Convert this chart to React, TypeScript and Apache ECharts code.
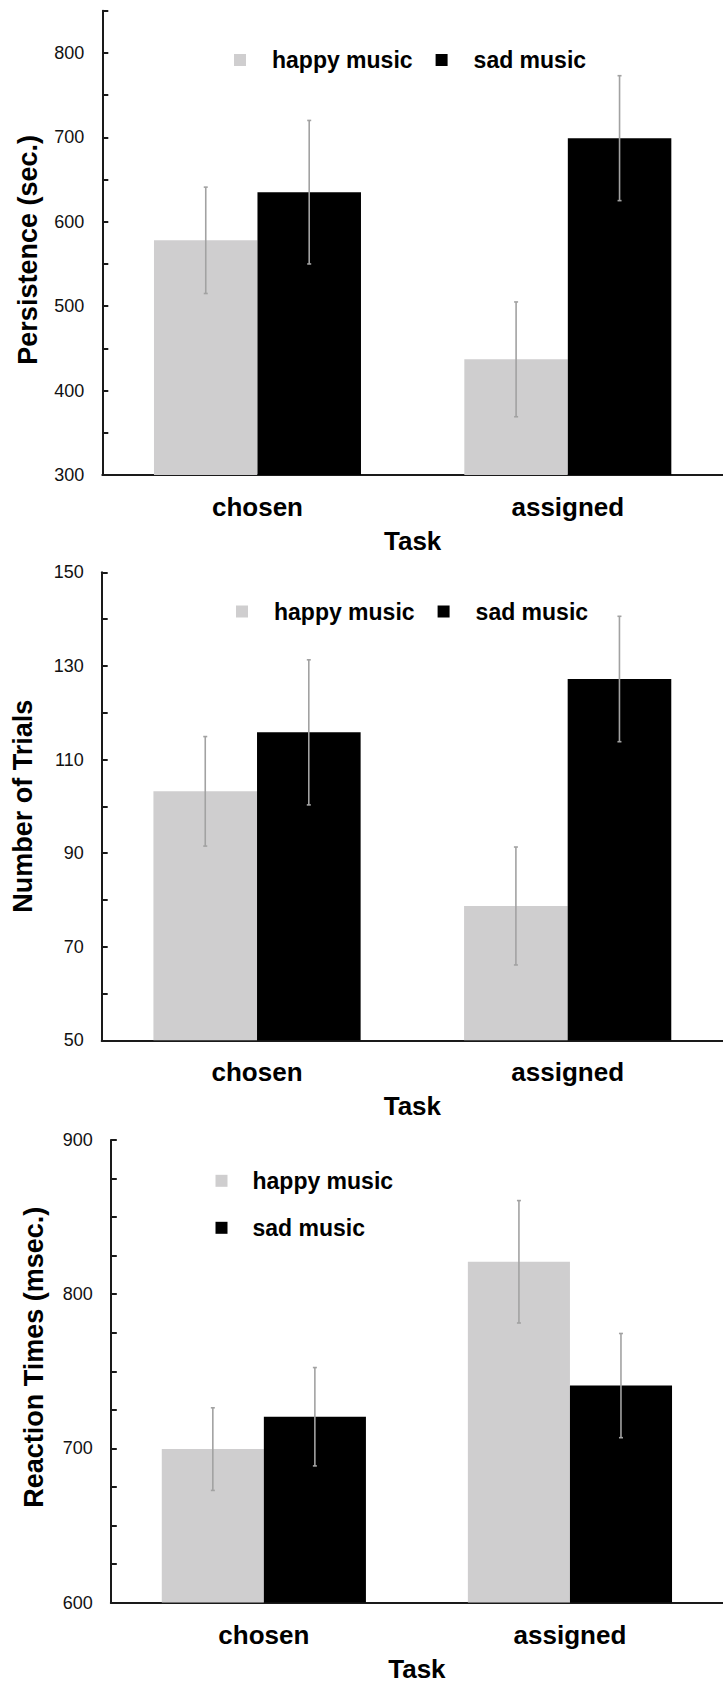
import React, { useEffect, useRef } from 'react';
import * as echarts from 'echarts';

const tasks = ['chosen', 'assigned'];
const groupNames = ['happy music', 'sad music'];

// Panel 1: Persistence (sec.)
const persistenceHappy = [578, 437];
const persistenceSad = [635, 699];
const persistenceHappyErr = [63, 68];
const persistenceSadErr = [85, 74];
const persistenceLabels = [300, 400, 500, 600, 700, 800];

// Panel 2: Number of Trials
const trialsHappy = [103.2, 78.7];
const trialsSad = [115.8, 127.2];
const trialsHappyErr = [11.7, 12.6];
const trialsSadErr = [15.5, 13.4];
const trialsLabels = [50, 70, 90, 110, 130, 150];

// Panel 3: Reaction Times (msec.)
const rtHappy = [699.5, 821];
const rtSad = [720.5, 740.7];
const rtHappyErr = [26.8, 39.7];
const rtSadErr = [31.9, 33.8];
const rtLabels = [600, 700, 800, 900];

const FONT = "'Liberation Sans', Arial, sans-serif";
const HAPPY_COLOR = '#cfcecf';
const SAD_COLOR = '#000000';
const AXIS_COLOR = '#1a1a1a';
const ERR_COLOR = '#a2a2a2';

type Panel = {
  title: string;
  happy: number[];
  sad: number[];
  happyErr: number[];
  sadErr: number[];
  labels: number[];
  min: number;
  max: number;
  interval: number;
  grid: { left: number; top: number; width: number; height: number };
  namePadding: number[];
  nameGap: number;
};

const panels: Panel[] = [
  {
    title: 'Persistence (sec.)',
    happy: persistenceHappy,
    sad: persistenceSad,
    happyErr: persistenceHappyErr,
    sadErr: persistenceSadErr,
    labels: persistenceLabels,
    min: 300,
    max: 850,
    interval: 50,
    grid: { left: 102.3, top: 10.7, width: 625, height: 464.3 },
    namePadding: [0, 14, 0, 0],
    nameGap: 61,
  },
  {
    title: 'Number of Trials',
    happy: trialsHappy,
    sad: trialsSad,
    happyErr: trialsHappyErr,
    sadErr: trialsSadErr,
    labels: trialsLabels,
    min: 50,
    max: 150,
    interval: 10,
    grid: { left: 101.7, top: 572.3, width: 630, height: 468 },
    namePadding: [0, 0, 0, 0],
    nameGap: 65,
  },
  {
    title: 'Reaction Times (msec.)',
    happy: rtHappy,
    sad: rtSad,
    happyErr: rtHappyErr,
    sadErr: rtSadErr,
    labels: rtLabels,
    min: 600,
    max: 900,
    interval: 25,
    grid: { left: 110.8, top: 1140, width: 624, height: 462.5 },
    namePadding: [0, 0, 0, 28],
    nameGap: 63,
  },
];

function buildOption() {
  const grids: any[] = [];
  const xAxes: any[] = [];
  const yAxes: any[] = [];
  const series: any[] = [];

  const errRender = (params: any, api: any) => {
    const idx = api.value(0);
    const lo = api.value(1);
    const hi = api.value(2);
    const side = api.value(3);
    const band = api.size([1, 0])[0];
    const pLo = api.coord([idx, lo]);
    const pHi = api.coord([idx, hi]);
    const x = pLo[0] + (side * band) / 6;
    const style = { stroke: ERR_COLOR, lineWidth: 1.6 };
    return {
      type: 'group',
      children: [
        { type: 'line', shape: { x1: x, y1: pLo[1], x2: x, y2: pHi[1] }, style },
        { type: 'line', shape: { x1: x - 2, y1: pLo[1], x2: x + 2, y2: pLo[1] }, style },
        { type: 'line', shape: { x1: x - 2, y1: pHi[1], x2: x + 2, y2: pHi[1] }, style },
      ],
    };
  };

  panels.forEach((p, i) => {
    grids.push({ ...p.grid });
    xAxes.push({
      type: 'category',
      gridIndex: i,
      data: tasks,
      name: 'Task',
      nameLocation: 'middle',
      nameGap: 53,
      nameTextStyle: { fontFamily: FONT, fontSize: 26, fontWeight: 'bold', color: '#000' },
      axisLine: { lineStyle: { color: AXIS_COLOR, width: 2 } },
      axisTick: { show: false },
      axisLabel: { fontFamily: FONT, fontSize: 26, fontWeight: 'bold', color: '#000', margin: 19 },
      splitLine: { show: false },
    });
    yAxes.push({
      type: 'value',
      gridIndex: i,
      min: p.min,
      max: p.max,
      interval: p.interval,
      name: p.title,
      nameLocation: 'middle',
      nameGap: p.nameGap,
      nameTextStyle: {
        fontFamily: FONT,
        fontSize: 27,
        fontWeight: 'bold',
        color: '#000',
        padding: p.namePadding,
      },
      axisLine: { show: true, lineStyle: { color: AXIS_COLOR, width: 2 } },
      axisTick: { show: true, inside: true, length: 6, lineStyle: { color: AXIS_COLOR, width: 2 } },
      axisLabel: {
        fontFamily: FONT,
        fontSize: 18,
        color: '#111',
        margin: 18,
        formatter: (v: number) => (p.labels.includes(v) ? String(v) : ''),
      },
      splitLine: { show: false },
    });
    series.push({
      name: groupNames[0],
      type: 'bar',
      xAxisIndex: i,
      yAxisIndex: i,
      data: p.happy,
      barGap: '0%',
      barCategoryGap: '33.3%',
      itemStyle: { color: HAPPY_COLOR },
    });
    series.push({
      name: groupNames[1],
      type: 'bar',
      xAxisIndex: i,
      yAxisIndex: i,
      data: p.sad,
      barGap: '0%',
      barCategoryGap: '33.3%',
      itemStyle: { color: SAD_COLOR },
    });
    const errData: number[][] = [];
    tasks.forEach((_, k) => {
      errData.push([k, p.happy[k] - p.happyErr[k], p.happy[k] + p.happyErr[k], -1]);
      errData.push([k, p.sad[k] - p.sadErr[k], p.sad[k] + p.sadErr[k], 1]);
    });
    series.push({
      name: 'error ' + i,
      type: 'custom',
      xAxisIndex: i,
      yAxisIndex: i,
      data: errData,
      encode: { x: 0, y: [1, 2] },
      renderItem: errRender,
      z: 10,
      silent: true,
    });
  });

  const legendText = {
    fontFamily: FONT,
    fontSize: 23,
    fontWeight: 'bold',
    color: '#000',
    padding: [0, 0, 0, 21],
  };

  const legends = [
    {
      data: groupNames,
      left: 234,
      top: 48.5,
      padding: 0,
      orient: 'horizontal',
      icon: 'rect',
      itemWidth: 12,
      itemHeight: 12,
      itemGap: 23,
      textStyle: legendText,
      selectedMode: false,
    },
    {
      data: groupNames,
      left: 236,
      top: 600,
      padding: 0,
      orient: 'horizontal',
      icon: 'rect',
      itemWidth: 12,
      itemHeight: 12,
      itemGap: 23,
      textStyle: legendText,
      selectedMode: false,
    },
    {
      data: groupNames,
      left: 215.5,
      top: 1169.3,
      padding: 0,
      orient: 'vertical',
      icon: 'rect',
      itemWidth: 12,
      itemHeight: 12,
      itemGap: 24,
      textStyle: { ...legendText, padding: [0, 0, 0, 20] },
      selectedMode: false,
    },
  ];

  return {
    animation: false,
    backgroundColor: '#ffffff',
    grid: grids,
    xAxis: xAxes,
    yAxis: yAxes,
    legend: legends,
    series,
  };
}

export default function App() {
  const ref = useRef<HTMLDivElement>(null);
  useEffect(() => {
    if (!ref.current) return;
    const chart = echarts.init(ref.current, undefined, { renderer: 'svg' });
    chart.setOption(buildOption() as any);
    return () => {
      chart.dispose();
    };
  }, []);
  return (
    <div
      ref={ref}
      style={{ position: 'absolute', left: 0, top: 0, width: 723, height: 1684, background: '#fff' }}
    />
  );
}
